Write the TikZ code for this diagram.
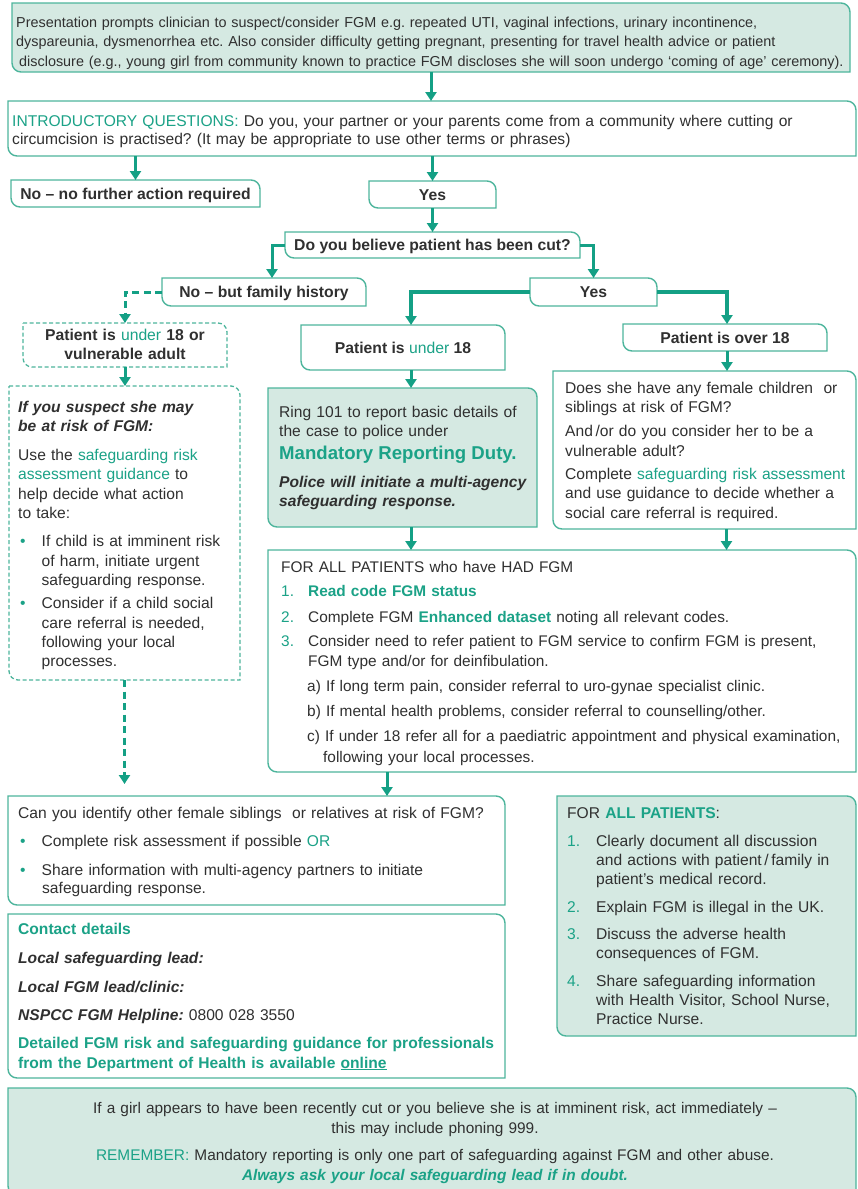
\documentclass[tikz,border=0pt]{standalone}
\usepackage{fontspec}
\setmainfont{Liberation Sans}
\usetikzlibrary{arrows.meta,fit}
\definecolor{tl}{HTML}{1BA287}
\definecolor{tb}{HTML}{4DB59C}
\definecolor{tf}{HTML}{D5E9E2}
\definecolor{ink}{HTML}{303030}
\definecolor{ar}{HTML}{14A085}
\newcommand\leafpath[2]{\path[#2] (#1.north west) -- ([xshift=-9pt]#1.north east) arc[start angle=90,end angle=0,radius=9pt] -- (#1.south east) -- ([xshift=9pt]#1.south west) arc[start angle=270,end angle=180,radius=9pt] -- cycle;}
\newcommand\tcol[1]{\textcolor{tl}{#1}}
\newcommand\bitx[1]{\textbf{\textit{#1}}}
\newcommand\numi[1]{\makebox[27pt][l]{\tcol{#1}}}
\newcommand\numj[1]{\makebox[29pt][l]{\tcol{#1}}}
\newcommand\lbul{\makebox[23.5pt][l]{\hspace*{2pt}\tcol{\textbullet}}}
\begin{document}
\frenchspacing
\begin{tikzpicture}[x=1pt,y=1pt,
  fr/.style={inner sep=0pt, outer sep=0pt},
  sol/.style={draw=tb, line width=1.4pt, fill=white},
  shd/.style={draw=tb, line width=1.4pt, fill=tf},
  dsh/.style={draw=tb, line width=1.3pt, dash pattern=on 4pt off 2.5pt, fill=white},
  txt/.style={anchor=base west, inner sep=0pt, align=left, text=ink, text width=#1},
  txt/.default=950pt,
  lab/.style={inner sep=0pt, text=ink, font=\bfseries\fontsize{15.7}{19}\selectfont, text height=11.2pt, text depth=0pt},
  arr/.style={draw=ar, line width=3pt, -{Triangle[width=11pt,length=9pt]}},
  arrw/.style={arr, line width=4pt},
  arrd/.style={arr, dash pattern=on 7pt off 4.5pt}]
\useasboundingbox (0,0) rectangle (857,-1189);
% frames
\node[fr, fit={(12,-3)(850,-72)}] (top) {};
\node[fr, fit={(8,-101)(856,-156)}] (intro) {};
\node[fr, fit={(11,-180)(260,-207)}] (nonfa) {};
\node[fr, fit={(369,-181)(496,-208)}] (yes1) {};
\node[fr, fit={(285,-232)(580,-258)}] (cut) {};
\node[fr, fit={(162,-278)(366,-306)}] (nofh) {};
\node[fr, fit={(530,-278)(657,-306)}] (yes2) {};
\node[fr, fit={(23,-323)(227,-367)}] (udash) {};
\node[fr, fit={(301,-325)(505,-370)}] (under) {};
\node[fr, fit={(623,-324)(827,-351)}] (over) {};
\node[fr, fit={(9,-386)(240,-680)}] (lbox) {};
\node[fr, fit={(268,-388)(537,-527)}] (mand) {};
\node[fr, fit={(553,-371)(856,-529)}] (rbox) {};
\node[fr, fit={(268,-550)(856,-772)}] (had) {};
\node[fr, fit={(8,-796)(505,-905)}] (canyou) {};
\node[fr, fit={(8,-914)(505,-1078)}] (contact) {};
\node[fr, fit={(557,-796)(856,-1036)}] (allp) {};
\node[fr, fit={(8,-1088)(856,-1195)}] (bottom) {};
% borders
\leafpath{top}{shd}
\leafpath{intro}{sol}
\leafpath{nonfa}{sol}
\leafpath{yes1}{sol}
\leafpath{cut}{sol}
\leafpath{nofh}{sol}
\leafpath{yes2}{sol}
\leafpath{udash}{dsh}
\leafpath{under}{sol}
\leafpath{over}{sol}
\leafpath{lbox}{dsh}
\leafpath{mand}{shd}
\leafpath{rbox}{sol}
\leafpath{had}{sol}
\leafpath{canyou}{sol}
\leafpath{contact}{sol}
\leafpath{allp}{shd}
\leafpath{bottom}{shd}
% texts
\node[txt, font=\fontsize{14.4}{19.8}\selectfont] (topt) at (16,-27) {Presentation prompts clinician to suspect/consider FGM e.g. repeated UTI, vaginal infections, urinary incontinence,\\ dyspareunia, dysmenorrhea etc. Also consider difficulty getting pregnant, presenting for travel health advice or patient\\ \hspace*{3pt}disclosure (e.g., young girl from community known to practice FGM discloses she will soon undergo ‘coming of age’ ceremony).};
\node[txt, font=\fontsize{15.6}{18.5}\selectfont] (introt) at (12,-126) {\tcol{INTRODUCTORY QUESTIONS:} Do you, your partner or your parents come from a community where cutting or\\ circumcision is practised? (It may be appropriate to use other terms or phrases)};
\node[lab] (nonfat) at (nonfa) {No – no further action required};
\node[lab] (yes1t) at (yes1) {Yes};
\node[lab] (cutt) at (cut) {Do you believe patient has been cut?};
\node[lab] (nofht) at (nofh) {No – but family history};
\node[lab] (yes2t) at (yes2) {Yes};
\node[lab] (undert) at (under) {Patient is \tcol{\mdseries under} 18};
\node[lab] (overt) at (over) {Patient is over 18};
\node[txt=200pt, align=center, anchor=base, font=\bfseries\fontsize{15.7}{19}\selectfont] (udasht) at (125,-340.5) {Patient is \tcol{\mdseries under} 18 or\\ vulnerable adult};
\node[txt, font=\fontsize{15.6}{19.3}\selectfont] (lboxt) at (18,-412) {\bitx{If you suspect she may}\\ \bitx{be at risk of FGM:}\\[10pt] Use the \tcol{safeguarding risk}\\ \tcol{assessment guidance} to\\ help decide what action\\ to take:\\[9pt] \lbul If child is at imminent risk\\ \hspace*{23.5pt}of harm, initiate urgent\\ \hspace*{23.5pt}safeguarding response.\\[4pt] \lbul Consider if a child social\\ \hspace*{23.5pt}care referral is needed,\\ \hspace*{23.5pt}following your local\\ \hspace*{23.5pt}processes.};
\node[txt, font=\fontsize{15.6}{19.3}\selectfont] (mandt) at (279,-417) {Ring 101 to report basic details of\\ the case to police under\\[3.5pt] {\bfseries\fontsize{18.6}{19.3}\selectfont\tcol{Mandatory Reporting Duty.}}\\[9pt] \bitx{Police will initiate a multi-agency}\\ \bitx{safeguarding response.}};
\node[txt, font=\fontsize{15.6}{19.5}\selectfont] (rboxt) at (565,-393) {Does she have any female children \ or\\ siblings at risk of FGM?\\[4.5pt] And\,/or do you consider her to be a\\ vulnerable adult?\\[3.5pt] Complete \tcol{safeguarding risk assessment}\\ and use guidance to decide whether a\\ social care referral is required.};
\node[txt, font=\fontsize{15.4}{20.5}\selectfont] (hadt) at (281,-572) {FOR ALL PATIENTS who have HAD FGM\\[3.5pt] \numi{1.}\tcol{\bfseries Read code FGM status}\\[5.5pt] \numi{2.}Complete FGM \tcol{\bfseries Enhanced dataset} noting all relevant codes.\\[3.5pt] \numi{3.}Consider need to refer patient to FGM service to confirm FGM is present,\\ \hspace*{27pt}FGM type and/or for deinfibulation.\\[4.5pt] \hspace*{26pt}a) If long term pain, consider referral to uro-gynae specialist clinic.\\[4.5pt] \hspace*{26pt}b) If mental health problems, consider referral to counselling/other.\\[4.5pt] \hspace*{26pt}c) If under 18 refer all for a paediatric appointment and physical examination,\\ \hspace*{42pt}following your local processes.};
\node[txt, font=\fontsize{15.6}{18.5}\selectfont] (canyout) at (18,-818) {Can you identify other female siblings \ or relatives at risk of FGM?\\[9.5pt] \lbul Complete risk assessment if possible \tcol{OR}\\[10.5pt] \lbul Share information with multi-agency partners to initiate\\ \hspace*{24pt}safeguarding response.};
\node[txt, font=\fontsize{15.6}{20}\selectfont] (contactt) at (18,-934) {\tcol{\bfseries Contact details}\\[9pt] \bitx{Local safeguarding lead:}\\[9pt] \bitx{Local FGM lead/clinic:}\\[8pt] \bitx{NSPCC FGM Helpline:} 0800 028 3550\\[8pt] \tcol{\bfseries Detailed FGM risk and safeguarding guidance for professionals}\\ \tcol{\bfseries from the Department of Health is available \underline{online}}};
\node[txt, font=\fontsize{15.6}{19}\selectfont] (allpt) at (567,-818) {FOR \tcol{\bfseries ALL PATIENTS}:\\[9pt] \numj{1.}Clearly document all discussion\\ \hspace*{29pt}and actions with patient\,/\,family in\\ \hspace*{29pt}patient’s medical record.\\[9pt] \numj{2.}Explain FGM is illegal in the UK.\\[8pt] \numj{3.}Discuss the adverse health\\ \hspace*{29pt}consequences of FGM.\\[9pt] \numj{4.}Share safeguarding information\\ \hspace*{29pt}with Health Visitor, School Nurse,\\ \hspace*{29pt}Practice Nurse.};
\node[txt=820pt, align=center, anchor=base, font=\fontsize{15.4}{20}\selectfont] (bott) at (435,-1113) {If a girl appears to have been recently cut or you believe she is at imminent risk, act immediately –\\ this may include phoning 999.\\[7pt] \tcol{REMEMBER:} Mandatory reporting is only one part of safeguarding against FGM and other abuse.\\ \tcol{\bfseries\itshape Always ask your local safeguarding lead if in doubt.}};
% connectors
\draw[arr] (top.south) -- (top.south |- intro.north);
\draw[arr] (intro.south -| nonfa.north) -- (nonfa.north);
\draw[arr] (intro.south -| yes1.north) -- (yes1.north);
\draw[arr] (yes1.south) -- (yes1.south |- cut.north);
\draw[arr] (cut.west) -| ([xshift=8pt]nofh.north);
\draw[arr] (cut.east) -| (yes2.north);
\draw[arrd] (nofh.west) -| (udash.north);
\draw[arrw] (yes2.west) -| ([xshift=8pt]under.north);
\draw[arrw] (yes2.east) -| ([xshift=2pt]over.north);
\draw[arr] ([xshift=8pt]under.south) -- ([xshift=8pt]under.south |- mand.north);
\draw[arr] ([xshift=8.5pt]mand.south) -- ([xshift=8.5pt]mand.south |- had.north);
\draw[arr] ([xshift=2pt]over.south) -- ([xshift=2pt]over.south |- rbox.north);
\draw[arr] ([xshift=22pt]rbox.south) -- ([xshift=22pt]rbox.south |- had.north);
\draw[arr] ([xshift=-175pt]had.south) -- ([xshift=-175pt]had.south |- canyou.north);
\draw[arr] (udash.south) -- (udash.south |- lbox.north);
\coordinate (ltip) at (124.5,-784);
\draw[arrd] (lbox.south) -- (ltip);
\end{tikzpicture}
\end{document}
